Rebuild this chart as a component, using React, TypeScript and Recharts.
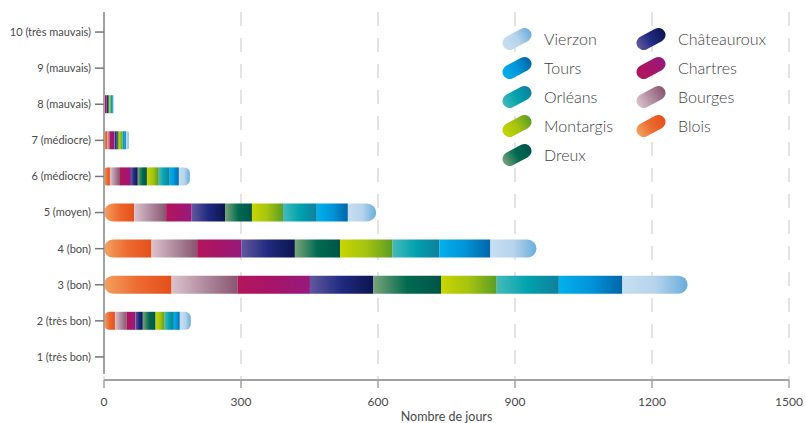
import { BarChart, Bar, XAxis, YAxis, CartesianGrid, Legend } from 'recharts';

// Air quality index categories, worst at the top
const categories = [
  '10 (très mauvais)',
  '9 (mauvais)',
  '8 (mauvais)',
  '7 (médiocre)',
  '6 (médiocre)',
  '5 (moyen)',
  '4 (bon)',
  '3 (bon)',
  '2 (très bon)',
  '1 (très bon)',
];

// Number of days per category, one array per city (same order as categories)
const blois = [0, 0, 0, 8, 13, 66, 104, 148, 24, 0];
const bourges = [0, 0, 0, 4, 22, 70, 100, 145, 26, 0];
const chartres = [0, 0, 6, 11, 24, 56, 97, 158, 19, 0];
const chateauroux = [0, 0, 3, 5, 15, 73, 117, 139, 16, 0];
const dreux = [0, 0, 3, 4, 20, 59, 99, 148, 28, 0];
const montargis = [0, 2, 3, 8, 26, 68, 115, 122, 20, 0];
const orleans = [0, 0, 3, 4, 24, 74, 102, 136, 20, 0];
const tours = [0, 0, 2, 4, 20, 68, 112, 139, 13, 0];
const vierzon = [0, 0, 2, 6, 24, 62, 101, 143, 24, 0];

const xTicks = [0, 300, 600, 900, 1200, 1500];

// Stack order, left to right
const cities = [
  { name: 'Blois', id: 'blois', values: blois },
  { name: 'Bourges', id: 'bourges', values: bourges },
  { name: 'Chartres', id: 'chartres', values: chartres },
  { name: 'Châteauroux', id: 'chateauroux', values: chateauroux },
  { name: 'Dreux', id: 'dreux', values: dreux },
  { name: 'Montargis', id: 'montargis', values: montargis },
  { name: 'Orléans', id: 'orleans', values: orleans },
  { name: 'Tours', id: 'tours', values: tours },
  { name: 'Vierzon', id: 'vierzon', values: vierzon },
];

// Horizontal gradient stops for each city (light -> dark)
const GRADIENTS: Record<string, string[]> = {
  blois: ['#f4a160', '#ec6a30', '#e54f1c'],
  bourges: ['#dcc3cc', '#b08b9e', '#8a5471'],
  chartres: ['#b3165a', '#a6156a', '#961a7d'],
  chateauroux: ['#62579f', '#1f2a80', '#0c1550'],
  dreux: ['#79a477', '#006a50', '#00544a'],
  montargis: ['#c9d500', '#a5c30f', '#5b9d25'],
  orleans: ['#45baba', '#00a2ae', '#0f7f9e'],
  tours: ['#00b1ec', '#0095d8', '#0066a8'],
  vierzon: ['#c6def1', '#b7d4ec', '#6aaddb'],
};

const legendOrder = [
  'Vierzon',
  'Tours',
  'Orléans',
  'Montargis',
  'Dreux',
  'Châteauroux',
  'Chartres',
  'Bourges',
  'Blois',
];

const TEXT_COLOR = '#4a4a4a';

const rows = categories.map((category, i) => {
  const row: Record<string, string | number> = { category };
  cities.forEach((c) => {
    row[c.name] = c.values[i];
  });
  return row;
});

function GradientDefs() {
  return (
    <defs>
      {Object.entries(GRADIENTS).map(([id, stops]) => (
        <linearGradient key={id} id={`grad-${id}`} x1="0" y1="0" x2="1" y2="0">
          <stop offset="0%" stopColor={stops[0]} />
          <stop offset="50%" stopColor={stops[1]} />
          <stop offset="100%" stopColor={stops[2]} />
        </linearGradient>
      ))}
    </defs>
  );
}

// Single-line category label (the default tick would wrap long labels)
function CategoryTick(props: any) {
  const { x, y, payload } = props;
  return (
    <text x={x} y={y} dy="0.35em" textAnchor="end" fill={TEXT_COLOR} fontSize={11}>
      {payload.value}
    </text>
  );
}

// Tilted pill swatch used in the legend
function PillIcon({ id }: { id: string }) {
  const stops = GRADIENTS[id];
  return (
    <svg width={30} height={24} style={{ display: 'block' }}>
      <defs>
        <linearGradient id={`legend-${id}`} x1="0" y1="0" x2="1" y2="0">
          <stop offset="0%" stopColor={stops[0]} />
          <stop offset="50%" stopColor={stops[1]} />
          <stop offset="100%" stopColor={stops[2]} />
        </linearGradient>
      </defs>
      <g transform="translate(15,12) rotate(-28)">
        <rect x={-15.5} y={-7} width={31} height={14} rx={7} fill={`url(#legend-${id})`} />
      </g>
    </svg>
  );
}

function CityLegend() {
  return (
    <div
      style={{
        display: 'grid',
        gridTemplateRows: 'repeat(5, 29.2px)',
        gridTemplateColumns: '134px 134px',
        gridAutoFlow: 'column',
      }}
    >
      {legendOrder.map((name) => {
        const city = cities.find((c) => c.name === name)!;
        return (
          <div key={name} style={{ display: 'flex', alignItems: 'center' }}>
            <PillIcon id={city.id} />
            <span
              style={{
                marginLeft: 12,
                fontSize: 16,
                fontWeight: 300,
                color: '#3f3f3f',
                lineHeight: 1,
              }}
            >
              {name}
            </span>
          </div>
        );
      })}
    </div>
  );
}

export default function App() {
  return (
    <div
      style={{
        position: 'absolute',
        left: 0,
        top: 0,
        width: 806,
        height: 423,
        background: '#fff',
        fontFamily: 'Lato, sans-serif',
      }}
    >
      <BarChart
        width={806}
        height={423}
        data={rows}
        layout="vertical"
        margin={{ top: 12, right: 17, left: 0, bottom: 0 }}
        barSize={18}
      >
        <GradientDefs />
        <CartesianGrid
          horizontal={false}
          stroke="#dcdcdc"
          strokeWidth={1.5}
          strokeDasharray="14 12"
        />
        <XAxis
          type="number"
          domain={[0, 1500]}
          ticks={xTicks}
          height={43}
          axisLine={{ stroke: '#a3a3a3', strokeWidth: 2 }}
          tickLine={{ stroke: '#a3a3a3', strokeWidth: 1.5 }}
          tickSize={8}
          tickMargin={9.5}
          tick={{ fill: TEXT_COLOR, fontSize: 12 }}
          label={{
            value: 'Nombre de jours',
            position: 'insideBottom',
            offset: 2,
            fill: TEXT_COLOR,
            fontSize: 12.5,
          }}
        />
        <YAxis
          type="category"
          dataKey="category"
          width={104}
          padding={{ top: 2, bottom: 5 }}
          axisLine={{ stroke: '#a3a3a3', strokeWidth: 2, strokeDasharray: '362 40' }}
          tickLine={{ stroke: '#777', strokeWidth: 1.5 }}
          tickSize={9}
          tickMargin={4}
          tick={<CategoryTick />}
          interval={0}
        />
        <Legend
          layout="vertical"
          align="center"
          verticalAlign="middle"
          wrapperStyle={{ position: 'absolute', left: 502, top: 24, width: 300 }}
          content={() => <CityLegend />}
        />
        {cities.map((c, i) => (
          <Bar
            key={c.id}
            dataKey={c.name}
            stackId="days"
            fill={`url(#grad-${c.id})`}
            isAnimationActive={false}
            radius={
              i === 0 ? [9, 0, 0, 9] : i === cities.length - 1 ? [0, 9, 9, 0] : 0
            }
          />
        ))}
      </BarChart>
    </div>
  );
}
